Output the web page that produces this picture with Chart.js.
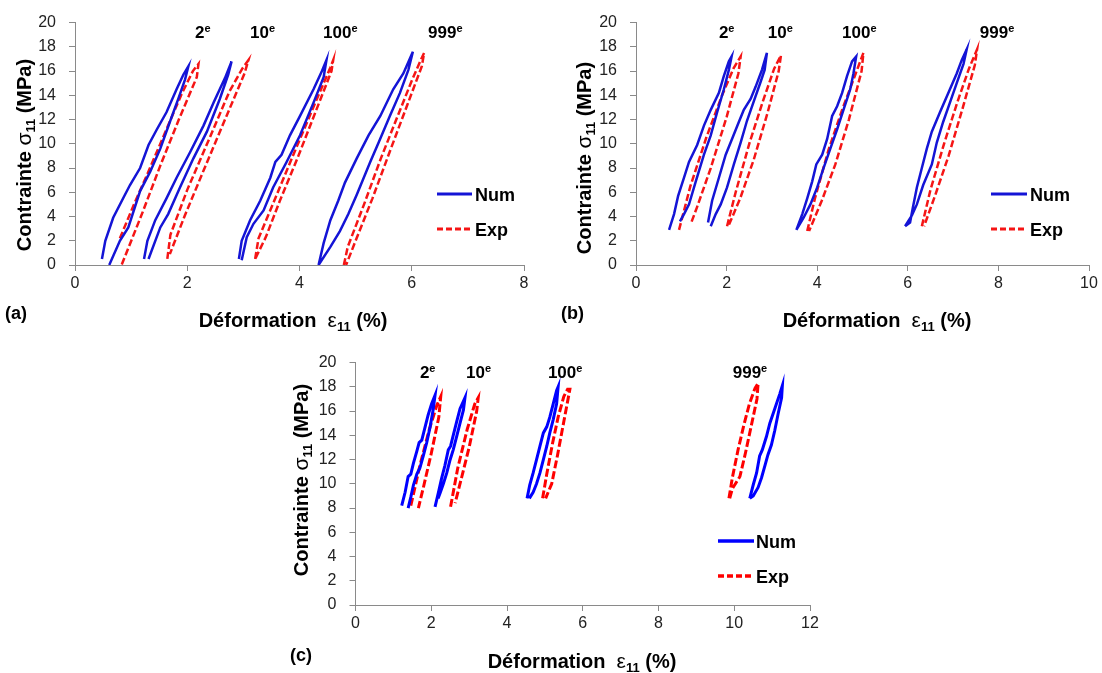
<!DOCTYPE html>
<html><head><meta charset="utf-8">
<script src="https://cdn.jsdelivr.net/npm/chart.js@4.4.1/dist/chart.umd.min.js"></script>
<style>
html,body{margin:0;padding:0;background:#fff;}
body{width:1102px;height:673px;position:relative;overflow:hidden;}
canvas{position:absolute;}
</style></head><body>
<canvas id="ca" width="550" height="340" style="left:0px;top:0px"></canvas>
<canvas id="cb" width="552" height="340" style="left:550px;top:0px"></canvas>
<canvas id="cc" width="560" height="333" style="left:280px;top:340px"></canvas>
<script>
// ---------- data: [strain %, stress MPa] ----------
const aNum2 = [[0.48,0.5],[0.54,2.0],[0.68,3.9],[0.89,5.8],[0.98,6.6],[1.16,8.0],[1.31,9.9],[1.46,11.2],[1.63,12.6],[1.81,14.5],[1.93,15.7],[2.02,16.4],[1.96,15.3],[1.84,13.7],[1.69,11.8],[1.52,9.6],[1.34,7.7],[1.16,6.1],[0.95,3.1],[0.80,2.0],[0.61,0.0]];
const aExp2 = [[0.80,2.2],[1.05,5.0],[1.28,7.4],[1.63,11.2],[1.90,14.1],[2.10,16.0],[2.20,16.6],[2.17,15.5],[1.85,12.0],[1.52,8.2],[1.20,4.3],[0.83,0.0]];
const aNum10 = [[1.23,0.5],[1.29,2.0],[1.43,3.7],[1.63,5.5],[1.81,7.2],[2.05,9.3],[2.29,11.5],[2.47,13.4],[2.67,15.4],[2.79,16.8],[2.73,15.7],[2.58,13.7],[2.35,11.0],[2.11,8.8],[1.87,6.4],[1.66,4.2],[1.52,3.1],[1.31,0.5]];
const aExp10 = [[1.645,0.5],[1.70,2.5],[2.00,6.2],[2.40,10.5],[2.75,14.3],[2.98,16.2],[3.09,16.9],[3.02,15.8],[2.70,12.3],[2.30,7.9],[1.95,4.0],[1.69,0.9]];
const aNum100 = [[2.92,0.5],[2.97,2.0],[3.12,3.7],[3.30,5.3],[3.48,7.2],[3.57,8.5],[3.68,9.1],[3.83,10.7],[4.01,12.3],[4.25,14.5],[4.40,16.0],[4.48,16.9],[4.43,15.5],[4.25,13.4],[4.01,10.7],[3.77,8.5],[3.53,6.4],[3.36,4.5],[3.18,3.4],[3.06,2.3],[2.97,0.4]];
const aExp100 = [[3.21,0.5],[3.27,2.2],[3.55,5.3],[3.90,9.2],[4.20,12.5],[4.43,15.0],[4.55,16.3],[4.60,16.9],[4.57,16.0],[4.30,12.8],[3.98,9.0],[3.65,5.3],[3.40,2.3],[3.21,0.5]];
const aNum999 = [[4.34,0.0],[4.43,1.8],[4.55,3.7],[4.69,5.3],[4.81,6.8],[5.02,8.8],[5.23,10.7],[5.44,12.3],[5.67,14.5],[5.85,15.8],[6.02,17.6],[5.94,16.1],[5.79,14.2],[5.61,12.3],[5.41,10.1],[5.26,8.5],[5.02,5.8],[4.87,4.2],[4.72,2.8],[4.55,1.5],[4.34,0.0]];
const aExp999 = [[4.79,0.0],[4.86,1.5],[5.15,5.0],[5.45,8.8],[5.75,12.3],[6.00,15.2],[6.15,16.8],[6.22,17.5],[6.18,16.4],[5.92,13.2],[5.62,9.5],[5.30,5.5],[5.00,2.0],[4.83,0.0]];

const bNum2 = [[0.73,2.9],[0.84,4.2],[0.93,5.7],[1.06,7.2],[1.17,8.5],[1.35,9.9],[1.50,11.5],[1.65,12.8],[1.83,14.2],[1.94,15.6],[2.05,16.8],[2.11,17.2],[2.05,16.1],[1.94,14.5],[1.79,12.6],[1.65,10.7],[1.50,9.1],[1.32,6.9],[1.17,5.0],[1.06,4.2],[0.97,3.6]];
const bExp2 = [[0.95,2.9],[1.20,6.5],[1.55,10.5],[1.90,14.0],[2.15,16.2],[2.31,17.2],[2.26,15.8],[2.00,12.2],[1.65,8.0],[1.35,4.8],[1.21,3.4]];
const bNum10 = [[1.59,3.5],[1.68,5.3],[1.83,7.2],[1.98,9.1],[2.12,10.4],[2.27,11.8],[2.38,12.8],[2.53,13.7],[2.64,14.7],[2.78,16.1],[2.89,17.5],[2.84,16.1],[2.75,15.1],[2.60,13.5],[2.45,11.9],[2.31,10.1],[2.16,8.3],[2.01,6.4],[1.87,5.0],[1.76,4.2],[1.65,3.2]];
const bExp10 = [[2.01,3.2],[2.20,6.0],[2.50,10.0],[2.80,13.5],[3.05,16.2],[3.20,17.3],[3.15,16.0],[2.90,12.5],[2.60,8.7],[2.30,5.5],[2.05,3.3]];
const bNum100 = [[3.54,2.9],[3.67,4.2],[3.78,5.5],[3.89,6.9],[3.98,8.3],[4.11,9.1],[4.22,10.4],[4.33,12.3],[4.44,13.1],[4.55,14.2],[4.66,15.6],[4.77,16.8],[4.86,17.2],[4.80,15.8],[4.73,14.5],[4.58,12.8],[4.44,11.2],[4.29,9.6],[4.14,8.0],[4.00,6.4],[3.85,5.0],[3.70,3.9],[3.54,2.9]];
const bExp100 = [[3.78,2.8],[3.95,5.5],[4.25,9.5],[4.55,12.8],[4.85,15.8],[5.02,17.5],[4.98,16.0],[4.70,12.0],[4.40,8.3],[4.10,5.3],[3.82,2.8]];
const bNum999 = [[5.94,3.2],[6.05,3.5],[6.11,4.7],[6.20,6.4],[6.31,8.0],[6.42,9.6],[6.53,11.0],[6.71,12.6],[6.93,14.5],[7.08,15.8],[7.19,16.9],[7.30,17.8],[7.23,16.6],[7.08,15.0],[6.93,13.4],[6.78,11.8],[6.64,10.1],[6.53,8.3],[6.34,6.6],[6.20,5.0],[6.09,4.1],[5.94,3.2]];
const bExp999 = [[6.31,3.2],[6.50,6.2],[6.80,10.0],[7.10,13.5],[7.35,16.2],[7.53,17.8],[7.48,16.5],[7.20,12.8],[6.90,9.0],[6.60,5.7],[6.36,3.2]];

const cNum2 = [[1.22,8.2],[1.31,9.3],[1.39,10.6],[1.46,10.8],[1.53,11.7],[1.62,12.7],[1.68,13.4],[1.75,13.6],[1.83,14.6],[1.92,15.7],[2.01,16.6],[2.10,17.3],[2.05,16.1],[1.97,14.7],[1.88,13.4],[1.79,12.3],[1.70,11.3],[1.62,10.8],[1.53,9.9],[1.46,8.9],[1.39,8.0]];
const cExp2 = [[1.46,8.2],[1.70,11.5],[1.95,14.5],[2.15,16.5],[2.25,17.2],[2.20,15.5],[2.00,12.5],[1.80,9.8],[1.66,8.0]];
const cNum10 = [[2.10,8.1],[2.19,9.3],[2.27,10.4],[2.36,11.5],[2.45,12.8],[2.51,13.1],[2.58,14.0],[2.67,15.1],[2.76,16.2],[2.89,17.1],[2.85,16.1],[2.76,15.0],[2.67,13.9],[2.58,12.8],[2.49,11.9],[2.41,10.9],[2.32,10.0],[2.23,9.2],[2.18,8.8]];
const cExp10 = [[2.51,8.1],[2.70,11.3],[2.95,14.5],[3.15,16.6],[3.24,17.1],[3.20,16.0],[3.00,13.0],[2.80,10.5],[2.63,8.4]];
const cNum100 = [[4.53,8.8],[4.60,9.9],[4.69,10.9],[4.78,12.0],[4.87,13.1],[4.96,14.2],[5.05,14.7],[5.13,15.5],[5.22,16.6],[5.31,17.7],[5.35,18.0],[5.31,16.6],[5.22,15.3],[5.13,14.2],[5.05,13.1],[4.96,12.0],[4.87,10.9],[4.78,10.0],[4.69,9.3],[4.59,8.8]];
const cExp100 = [[4.94,8.8],[5.05,10.8],[5.20,13.3],[5.35,15.5],[5.50,17.2],[5.60,17.8],[5.66,17.8],[5.60,16.8],[5.48,14.8],[5.33,12.3],[5.18,10.0],[5.02,8.8]];
const cNum999 = [[10.41,8.8],[10.50,9.9],[10.59,10.9],[10.67,12.3],[10.74,12.8],[10.85,13.9],[10.94,15.0],[11.07,16.2],[11.20,17.4],[11.27,18.1],[11.25,17.1],[11.16,15.8],[11.07,14.4],[10.98,13.2],[10.89,12.4],[10.81,11.5],[10.72,10.5],[10.63,9.7],[10.50,9.0],[10.41,8.8]];
const cExp999 = [[9.86,8.8],[9.95,10.5],[10.10,12.8],[10.25,14.8],[10.40,16.6],[10.55,17.9],[10.63,18.3],[10.60,17.0],[10.45,14.8],[10.30,12.6],[10.15,10.6],[9.95,9.6],[9.88,8.8]];

// ticks
const yTicks = [0,2,4,6,8,10,12,14,16,18,20];
const aXTicks = [0,2,4,6,8];
const bXTicks = [0,2,4,6,8,10];
const cXTicks = [0,2,4,6,8,10,12];

// cycle labels and their strain positions
const cycleLabels = ['2','10','100','999'];
const aLabelX = [2.14,3.12,4.42,6.29];
const bLabelX = [1.83,2.91,4.55,7.59];
const cLabelX = [1.70,2.92,5.08,9.96];
const seriesNames = ['Num','Exp'];

// ---------- drawing ----------
const FF = '"Liberation Sans", Arial, sans-serif';

function drawRich(ctx, parts, x, y, align){
  let w = 0;
  for (const p of parts){ ctx.font = p.f; w += ctx.measureText(p.t).width; }
  let cx = align === 'center' ? x - w/2 : x;
  ctx.textBaseline = 'alphabetic';
  for (const p of parts){ ctx.font = p.f; ctx.fillText(p.t, cx, y + (p.dy||0)); cx += ctx.measureText(p.t).width; }
}

function build(id, P){
  const Wy = 45, Hx = 30;
  const pad = {
    left: P.area.L - P.box.x - Wy,
    top: P.area.T - P.box.y,
    right: P.box.x + P.box.w - P.area.R,
    bottom: P.box.y + P.box.h - P.area.B - Hx
  };
  const mk = (arr, kind) => ({
    label: kind,
    data: arr.map(p => ({x:p[0], y:p[1]})),
    showLine: true,
    borderColor: kind === 'Num' ? P.blue : P.red,
    borderWidth: P.lw,
    borderDash: kind === 'Num' ? [] : P.dash,
    pointRadius: 0,
    fill: false,
    tension: 0
  });
  const datasets = [];
  P.num.forEach(a => datasets.push(mk(a,'Num')));
  P.exp.forEach(a => datasets.push(mk(a,'Exp')));
  const ox = P.box.x, oy = P.box.y;

  const textPlugin = {
    id: 'texts',
    afterDraw(chart){
      const ctx = chart.ctx;
      ctx.save();
      ctx.fillStyle = '#000';
      // y title
      ctx.save();
      ctx.translate(P.yTitle.cx - ox, P.yTitle.cy - oy);
      ctx.rotate(-Math.PI/2);
      drawRich(ctx, [
        {t:'Contrainte ', f:'bold 20px '+FF},
        {t:'σ', f:'21px '+FF},
        {t:'11', f:'bold 13px '+FF, dy:4},
        {t:' (MPa)', f:'bold 20px '+FF}
      ], 0, 7, 'center');
      ctx.restore();
      // x title
      drawRich(ctx, [
        {t:'Déformation  ', f:'bold 20px '+FF},
        {t:'ε', f:'21px '+FF},
        {t:'11', f:'bold 13px '+FF, dy:4},
        {t:' (%)', f:'bold 20px '+FF}
      ], P.xTitle.cx - ox, P.xTitle.cy - oy + 7, 'center');
      // panel label
      drawRich(ctx, [{t:P.panel.t, f:'bold 18px '+FF}], P.panel.x - ox, P.panel.cy - oy + 6, 'left');
      // cycle annotations
      const xs = chart.scales.x, ys = chart.scales.y;
      cycleLabels.forEach((lab, i) => {
        const px = xs.getPixelForValue(P.labelX[i]);
        const py = ys.getPixelForValue(19.2);
        drawRich(ctx, [
          {t:lab, f:'bold 17px '+FF},
          {t:'e', f:'bold 11px '+FF, dy:-6}
        ], px, py + 6, 'left');
      });
      // legend
      seriesNames.forEach((nm, i) => {
        const y = (i === 0 ? P.legend.y1 : P.legend.y2) - oy;
        ctx.beginPath();
        ctx.setLineDash(i === 0 ? [] : P.legDash);
        ctx.lineWidth = P.lw + 0.5;
        ctx.strokeStyle = i === 0 ? P.blue : P.red;
        ctx.moveTo(P.legend.x1 - ox, y);
        ctx.lineTo(P.legend.x2 - ox, y);
        ctx.stroke();
        ctx.setLineDash([]);
        ctx.fillStyle = '#000';
        drawRich(ctx, [{t:nm, f:'bold 18px '+FF}], P.legend.tx - ox, y + 6.5, 'left');
      });
      ctx.restore();
    }
  };

  const axisCommon = {
    type: 'linear',
    grid: {display: true, drawOnChartArea: false, drawTicks: true, tickLength: 6, color: '#8a8a8a', lineWidth: 1},
    border: {display: true, color: '#8a8a8a', width: 1}
  };

  return new Chart(document.getElementById(id), {
    type: 'scatter',
    data: {datasets},
    plugins: [textPlugin],
    options: {
      responsive: false,
      animation: false,
      devicePixelRatio: 1,
      layout: {padding: pad},
      plugins: {legend: {display: false}, tooltip: {enabled: false}},
      scales: {
        x: Object.assign({}, axisCommon, {
          min: P.xTicks[0], max: P.xTicks[P.xTicks.length-1],
          afterBuildTicks: s => { s.ticks = P.xTicks.map(v => ({value: v})); },
          ticks: {font: {family: FF, size: 16}, color: '#222', padding: 3, maxRotation: 0, autoSkip: false},
          afterFit: s => { s.height = Hx; }
        }),
        y: Object.assign({}, axisCommon, {
          min: 0, max: 20,
          afterBuildTicks: s => { s.ticks = yTicks.map(v => ({value: v})); },
          ticks: {font: {family: FF, size: 16}, color: '#222', padding: 13, autoSkip: false},
          afterFit: s => { s.width = Wy; }
        })
      }
    }
  });
}

build('ca', {
  box: {x:0, y:0, w:550, h:340},
  area: {L:75, T:18, R:524, B:265},
  xTicks: aXTicks, labelX: aLabelX,
  num: [aNum2, aNum10, aNum100, aNum999],
  exp: [aExp2, aExp10, aExp100, aExp999],
  blue: '#1414d6', red: '#f51515', lw: 2.5, dash: [7,3], legDash: [6,3],
  yTitle: {cx:24, cy:155}, xTitle: {cx:293, cy:320}, panel: {t:'(a)', x:5, cy:313},
  legend: {x1:437, x2:472, y1:194, y2:229, tx:475}
});
build('cb', {
  box: {x:550, y:0, w:552, h:340},
  area: {L:636, T:18, R:1089, B:265},
  xTicks: bXTicks, labelX: bLabelX,
  num: [bNum2, bNum10, bNum100, bNum999],
  exp: [bExp2, bExp10, bExp100, bExp999],
  blue: '#1414d6', red: '#f51515', lw: 2.5, dash: [7,3], legDash: [6,3],
  yTitle: {cx:584, cy:158}, xTitle: {cx:877, cy:320}, panel: {t:'(b)', x:561, cy:313},
  legend: {x1:991, x2:1027, y1:194, y2:229, tx:1030}
});
build('cc', {
  box: {x:280, y:340, w:560, h:333},
  area: {L:355.5, T:358, R:810, B:605},
  xTicks: cXTicks, labelX: cLabelX,
  num: [cNum2, cNum10, cNum100, cNum999],
  exp: [cExp2, cExp10, cExp100, cExp999],
  blue: '#0000ff', red: '#ff0000', lw: 3, dash: [8,3], legDash: [6,3],
  yTitle: {cx:301, cy:480}, xTitle: {cx:582, cy:661}, panel: {t:'(c)', x:290, cy:655},
  legend: {x1:718, x2:754, y1:541, y2:576, tx:756}
});
</script>
</body></html>
